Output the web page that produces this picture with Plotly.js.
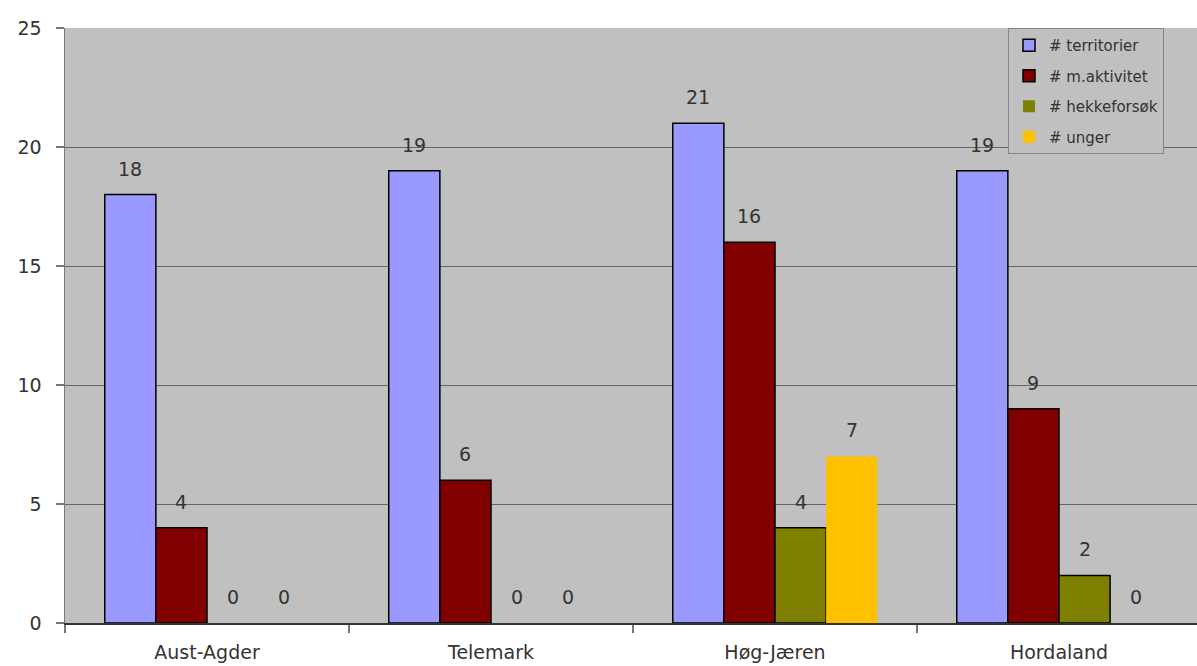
<!DOCTYPE html>
<html>
<head>
<meta charset="utf-8">
<script src="https://cdn.plot.ly/plotly-3.0.1.min.js"></script>
<style>
html,body{margin:0;padding:0;overflow:hidden;background:#fff;}
#chart{width:1201px;height:666px;}
</style>
</head>
<body>
<div id="chart"></div>
<script>
const categories = ["Aust-Agder", "Telemark", "Høg-Jæren", "Hordaland"];
const seriesNames = ["# territorier", "# m.aktivitet", "# hekkeforsøk", "# unger"];
const territorier = [18, 19, 21, 19];
const aktivitet = [4, 6, 16, 9];
const hekkeforsok = [0, 0, 4, 2];
const unger = [0, 0, 7, 0];
const colors = ["#9999FF", "#800000", "#808000", "#FFC000"];

const seriesValues = [territorier, aktivitet, hekkeforsok, unger];
const FONT = "DejaVu Sans, Liberation Sans, Arial, sans-serif";

const traces = seriesValues.map((vals, i) => ({
  type: "bar",
  name: seriesNames[i],
  x: categories,
  y: vals,
  legendgroup: "g" + i,
  marker: {
    color: colors[i],
    line: {color: "#000000", width: vals.map(v => (v === 0 || i === 3) ? 0 : 1.5)}
  },
  hoverinfo: "none"
}));

// value labels above bars
const plotW = 1201 - 65;
const catW = plotW / categories.length;
const barW = catW * (1 - 0.28) / seriesValues.length;
const annotations = [];
seriesValues.forEach((vals, i) => {
  vals.forEach((v, j) => {
    annotations.push({
      x: categories[j], y: v, xref: "x", yref: "y",
      text: String(v), showarrow: false,
      xshift: (i - 1.5) * barW, yshift: 26,
      yanchor: "middle", xanchor: "center",
      font: {family: FONT, size: 19, color: "#333333"}
    });
  });
});

const layout = {
  width: 1201, height: 666,
  margin: {l: 65, r: 0, t: 28, b: 43, pad: 0},
  paper_bgcolor: "#ffffff",
  plot_bgcolor: "#C0C0C0",
  barmode: "group",
  bargap: 0.28,
  bargroupgap: 0,
  showlegend: true,
  font: {family: FONT, size: 18, color: "#333333"},
  xaxis: {
    type: "category",
    tickson: "boundaries",
    ticks: "outside", ticklen: 8, tickcolor: "#777777", tickwidth: 1.5,
    showline: true, linecolor: "#333333", linewidth: 1.5,
    showgrid: false,
    ticklabelstandoff: 12,
    tickfont: {family: FONT, size: 19, color: "#333333"},
    fixedrange: true
  },
  yaxis: {
    range: [0, 25], dtick: 5, tick0: 0,
    ticks: "outside", ticklen: 8, tickcolor: "#777777", tickwidth: 1.5,
    showline: true, linecolor: "#777777", linewidth: 1.5,
    showgrid: true, gridcolor: "#666666", gridwidth: 1,
    zeroline: false,
    ticklabelstandoff: 10,
    tickfont: {family: FONT, size: 19, color: "#333333"},
    fixedrange: true
  },
  legend: {
    xref: "paper",
    y: 1, yanchor: "top", xanchor: "left",
    bgcolor: "#C0C0C0", bordercolor: "#888888", borderwidth: 1,
    font: {family: FONT, size: 15, color: "#333333"},
    traceorder: "grouped", tracegroupgap: 8,
    itemwidth: 30
  },
  annotations: annotations
};
layout.legend.x = (1008 - 65) / plotW;

Plotly.newPlot("chart", traces, layout, {displayModeBar: false, staticPlot: true});
</script>
</body>
</html>
